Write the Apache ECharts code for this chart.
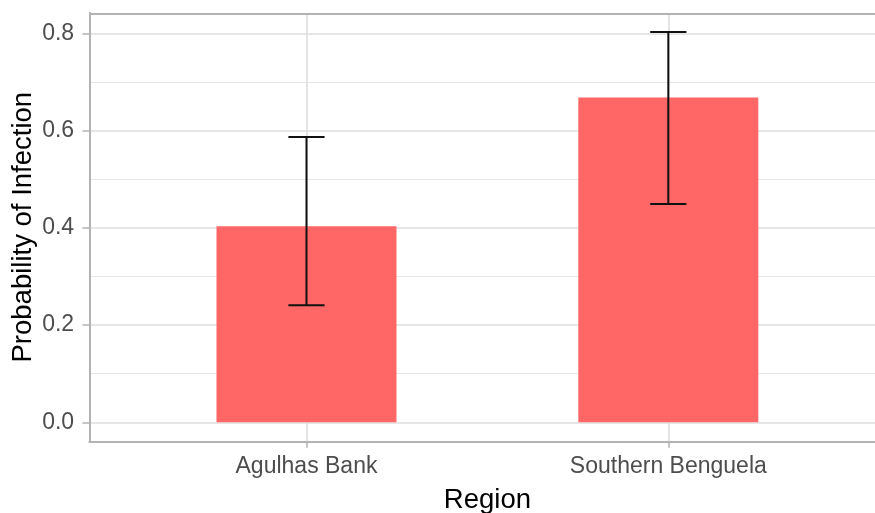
<!DOCTYPE html>
<html>
<head>
<meta charset="utf-8">
<script src="https://cdn.jsdelivr.net/npm/echarts@6/dist/echarts.min.js"></script>
<style>html,body{margin:0;padding:0;background:#fff}#c{width:875px;height:513px}</style>
</head>
<body>
<div id="c"></div>
<script>
var categories = ['Agulhas Bank', 'Southern Benguela'];
var probability = [0.403, 0.668];
var lowerCI = [0.241, 0.449];
var upperCI = [0.587, 0.803];
var yMajorTicks = [0, 0.2, 0.4, 0.6, 0.8];
var yMinorTicks = [0.1, 0.3, 0.5, 0.7];
var xTicks = [0, 1];

var X_MIN = -0.6, X_MAX = 1.6, Y_MIN = -0.0399, Y_MAX = 0.8425;
var FONT = '"Liberation Sans", Arial, sans-serif';
var chart = echarts.init(document.getElementById('c'), null, {renderer: 'canvas'});

var barData = categories.map(function (c, i) { return [i, probability[i]]; });
var errData = categories.map(function (c, i) { return [i, lowerCI[i], upperCI[i]]; });

var gridLines = [];
yMinorTicks.forEach(function (v) {
  gridLines.push({yAxis: v, lineStyle: {color: '#e6e6e6', width: 1.2, type: 'solid'}});
});
yMajorTicks.forEach(function (v) {
  gridLines.push({yAxis: v, lineStyle: {color: '#dedede', width: 1.6, type: 'solid'}});
});
xTicks.forEach(function (v) {
  gridLines.push({xAxis: v, lineStyle: {color: '#dedede', width: 1.6, type: 'solid'}});
});
var borderStyle = {color: '#b3b3b3', width: 2, type: 'solid'};
var borderLines = [
  {yAxis: Y_MAX, lineStyle: borderStyle}
];
var axisLineStyle = {show: true, onZero: false, lineStyle: {color: '#b3b3b3', width: 2}};

var option = {
  animation: false,
  backgroundColor: '#ffffff',
  grid: {
    left: 89.4, top: 12.7, width: 796, height: 429,
    containLabel: false, outerBoundsMode: 'none', show: false
  },
  xAxis: {
    type: 'value', min: X_MIN, max: X_MAX,
    name: 'Region', nameLocation: 'middle', nameGap: 44.5, nameMoveOverlap: false,
    nameTextStyle: {fontFamily: FONT, fontSize: 27.5, color: '#000'},
    axisLine: axisLineStyle,
    axisTick: {show: true, length: 6, customValues: xTicks, lineStyle: {color: '#b3b3b3', width: 1.5}},
    axisLabel: {
      customValues: xTicks, margin: 13.3, fontFamily: FONT, fontSize: 23, color: '#4d4d4d',
      formatter: function (v) { return categories[Math.round(v)] || ''; }
    },
    splitLine: {show: false}
  },
  yAxis: {
    type: 'value', min: Y_MIN, max: Y_MAX,
    name: 'Probability of Infection', nameLocation: 'middle', nameGap: 52, nameMoveOverlap: false,
    nameTextStyle: {fontFamily: FONT, fontSize: 27.5, color: '#000'},
    axisLine: axisLineStyle,
    axisTick: {show: true, length: 7, customValues: yMajorTicks, lineStyle: {color: '#b3b3b3', width: 1.5}},
    axisLabel: {
      customValues: yMajorTicks, margin: 15.3, fontFamily: FONT, fontSize: 23, color: '#4d4d4d',
      formatter: function (v) { return v.toFixed(1); }
    },
    splitLine: {show: false}
  },
  series: [
    {
      type: 'line', data: [], z: 0, silent: true,
      markLine: {z: 0, silent: true, symbol: ['none', 'none'], label: {show: false}, animation: false, data: gridLines}
    },
    {
      type: 'bar', data: barData, barWidth: 180, z: 5,
      itemStyle: {color: '#ff6666'}
    },
    {
      type: 'custom', data: errData, z: 6,
      renderItem: function (params, api) {
        var x = api.value(0), lo = api.value(1), hi = api.value(2);
        var pLo = api.coord([x, lo]), pHi = api.coord([x, hi]);
        var capL = api.coord([x - 0.05, hi])[0], capR = api.coord([x + 0.05, hi])[0];
        var st = {stroke: '#111', lineWidth: 2};
        return {
          type: 'group',
          children: [
            {type: 'line', shape: {x1: pLo[0], y1: pLo[1], x2: pHi[0], y2: pHi[1]}, style: st},
            {type: 'line', shape: {x1: capL, y1: pHi[1], x2: capR, y2: pHi[1]}, style: st},
            {type: 'line', shape: {x1: capL, y1: pLo[1], x2: capR, y2: pLo[1]}, style: st}
          ]
        };
      }
    },
    {
      type: 'line', data: [], z: 7, silent: true,
      markLine: {z: 7, silent: true, symbol: ['none', 'none'], label: {show: false}, animation: false, data: borderLines}
    }
  ]
};
chart.setOption(option);
</script>
</body>
</html>
